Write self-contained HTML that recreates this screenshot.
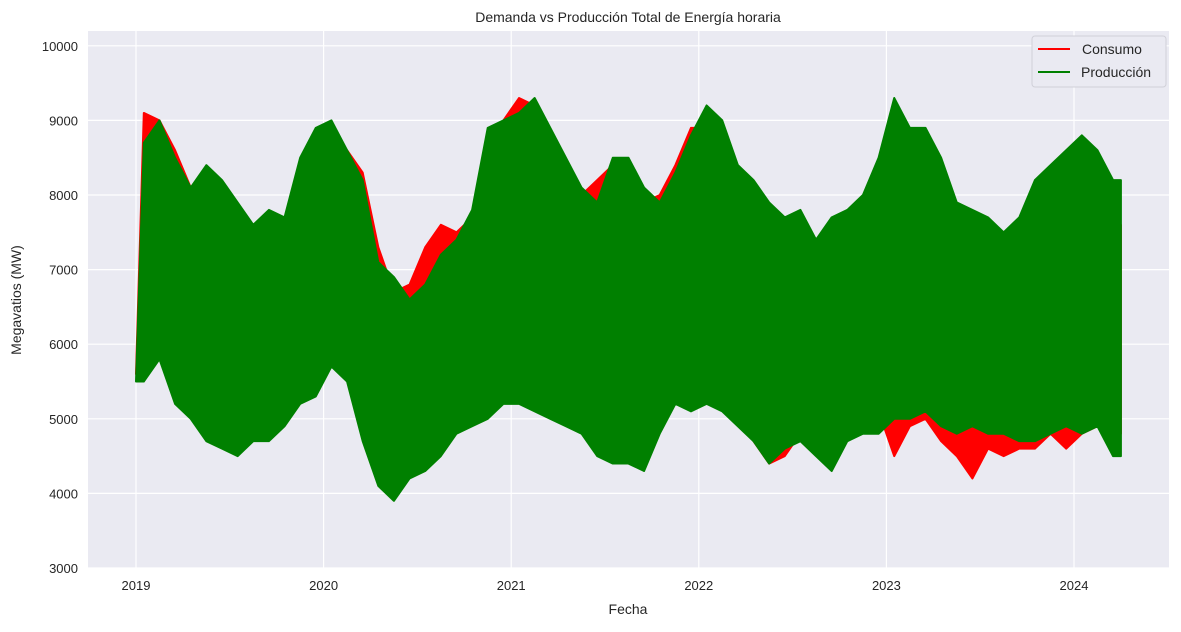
<!DOCTYPE html>
<html><head><meta charset="utf-8"><style>
body{margin:0;background:#fff;font-family:"Liberation Sans",sans-serif;}
svg text{font-family:"Liberation Sans",sans-serif;fill:#262626;}
</style></head><body>
<svg id="c" width="1181" height="627">
<rect x="88" y="31" width="1081" height="537" fill="#eaeaf2"/>
<g id="grid"></g><g id="series"></g><g id="axes"></g>
<text x="628" y="22" text-anchor="middle" font-size="14">Demanda vs Producción Total de Energía horaria</text>
<text x="628" y="614" text-anchor="middle" font-size="14">Fecha</text>
<text x="21" y="300" text-anchor="middle" font-size="14" transform="rotate(-90 21 300)">Megavatios (MW)</text>
<g>
<rect x="1032" y="36" width="134" height="51" rx="3" fill="#eaeaf2" stroke="#d0d0d8"/>
<line x1="1038" y1="49" x2="1070" y2="49" stroke="#ff0000" stroke-width="2"/>
<text x="1082" y="54" font-size="14">Consumo</text>
<line x1="1038" y1="72" x2="1070" y2="72" stroke="#008000" stroke-width="2"/>
<text x="1081" y="77" font-size="14">Producción</text>
</g>
</svg>
<script>
const yTicks=[3000,4000,5000,6000,7000,8000,9000,10000];
const xTicks=[2019,2020,2021,2022,2023,2024];
const consMax=[9100,9000,8600,8100,7700,7800,7800,7500,7500,7700,8100,8600, 8800,8600,8300,7300,6700,6800,7300,7600,7500,7700,8400,9000, 9300,9200,8700,8400,8000,8200,8400,8300,7900,8000,8400,8900, 8900,8800,8300,7700,7300,7400,7600,7300,7200,7300,7700,8000, 8200,7900,7600,7300,7200,7600,7500,7500,7300,7200,7600,8300, 8200,8000,7600];
const consMin=[5600,5900,5500,5200,4900,5100,5100,5200,5300,5400,5500,5800, 5900,5900,5400,4400,4300,4700,5000,5100,5200,5300,5500,5700, 5300,5500,5600,5200,5000,4800,5100,5000,5000,5200,5400,5200, 5300,5400,5200,4700,4400,4500,4800,4700,4600,4700,4900,5100, 4500,4900,5000,4700,4500,4200,4600,4500,4600,4600,4800,4600, 4800,4900,4800];
const prodMax=[8700,9000,8500,8100,8400,8200,7900,7600,7800,7700,8500,8900, 9000,8600,8200,7100,6900,6600,6800,7200,7400,7800,8900,9000, 9100,9300,8900,8500,8100,7900,8500,8500,8100,7900,8300,8800, 9200,9000,8400,8200,7900,7700,7800,7400,7700,7800,8000,8500, 9300,8900,8900,8500,7900,7800,7700,7500,7700,8200,8400,8600, 8800,8600,8200];
const prodMin=[5500,5800,5200,5000,4700,4600,4500,4700,4700,4900,5200,5300, 5700,5500,4700,4100,3900,4200,4300,4500,4800,4900,5000,5200, 5200,5100,5000,4900,4800,4500,4400,4400,4300,4800,5200,5100, 5200,5100,4900,4700,4400,4600,4700,4500,4300,4700,4800,4800, 5000,5000,5100,4900,4800,4900,4800,4800,4700,4700,4800,4900, 4800,4900,4500];
const NS='http://www.w3.org/2000/svg';
const X=t=>136+(t-2019)*187.6;
const Y=v=>568-(v-3000)*0.0746;
function mk(tag,attrs,parent){const e=document.createElementNS(NS,tag);for(const k in attrs)e.setAttribute(k,attrs[k]);parent.appendChild(e);return e;}
const grid=document.getElementById('grid'),axes=document.getElementById('axes'),ser=document.getElementById('series');
yTicks.forEach(v=>{
 const l=mk('line',{x1:88,x2:1169,y1:Y(v),y2:Y(v),stroke:'#fff','stroke-width':1.2},grid);
 
 
 const t=mk('text',{x:78,y:Y(v)+5,'text-anchor':'end','font-size':13},axes);t.textContent=v;
 
 
});
xTicks.forEach(v=>{
 const l=mk('line',{x1:X(v),x2:X(v),y1:31,y2:568,stroke:'#fff','stroke-width':1.2},grid);
 
 
 const t=mk('text',{x:X(v),y:590,'text-anchor':'middle','font-size':13},axes);t.textContent=v;
 
 
});
function band(maxA,minA,color,name){
 const n=maxA.length,tm=i=>2019+(i+0.5)/12;
 let pts=[];
 pts.push([X(2019),Y(minA[0])]);
 for(let i=0;i<n;i++)pts.push([X(tm(i)),Y(maxA[i])]);
 pts.push([X(2019+n/12),Y(maxA[n-1])]);
 pts.push([X(2019+n/12),Y(minA[n-1])]);
 for(let i=n-1;i>=0;i--)pts.push([X(tm(i)),Y(minA[i])]);
 const p=mk('polygon',{points:pts.map(q=>q.join(',')).join(' '),fill:color,stroke:color,'stroke-width':2,'stroke-linejoin':'round'},ser);
 
 
}
band(consMax,consMin,'#ff0000','consumo-series');
band(prodMax,prodMin,'#008000','produccion-series');
</script>
</body></html>
